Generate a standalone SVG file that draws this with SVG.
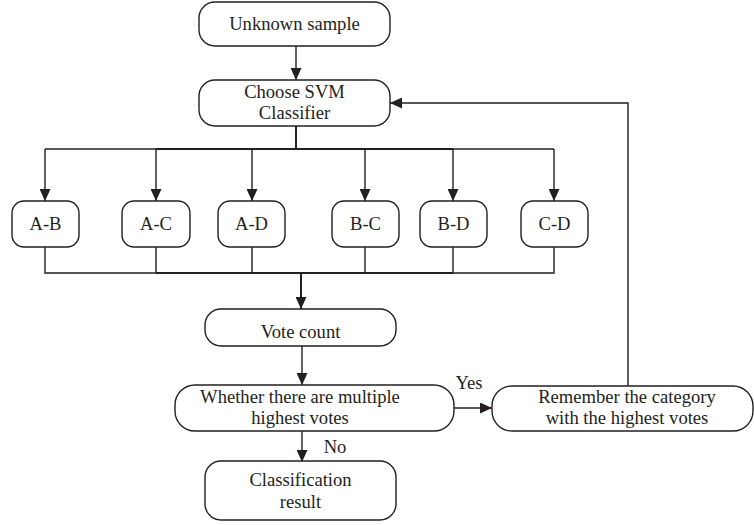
<svg xmlns="http://www.w3.org/2000/svg" width="754" height="525" viewBox="0 0 754 525">
<style>
.box{fill:#fff;stroke:#231f20;stroke-width:1.4}
.t{font-family:"Liberation Serif","Times New Roman",serif;font-size:18.6px;fill:#231f20;text-anchor:middle}
.ln{fill:none;stroke:#231f20;stroke-width:1.4}
.thick{stroke-width:2}
</style>
<defs>
<marker id="ah" viewBox="0 0 12 11" refX="12" refY="5.5" markerWidth="12" markerHeight="11" markerUnits="userSpaceOnUse" orient="auto">
<path d="M0,0 L12,5.5 L0,11 Z" fill="#231f20"/>
</marker>
</defs>
<g id="connectors">
<path class="ln" d="M296,46 V80" marker-end="url(#ah)"/>
<path class="ln thick" d="M296,126 V149"/>
<path class="ln" d="M45,149 H554"/>
<path class="ln thick" d="M156,149 H453"/>
<path class="ln" d="M45,149 V201" marker-end="url(#ah)"/>
<path class="ln" d="M156,149 V201" marker-end="url(#ah)"/>
<path class="ln" d="M252,149 V201" marker-end="url(#ah)"/>
<path class="ln" d="M365,149 V201" marker-end="url(#ah)"/>
<path class="ln" d="M453,149 V201" marker-end="url(#ah)"/>
<path class="ln" d="M554,149 V201" marker-end="url(#ah)"/>
<path class="ln" d="M45,247 V273 H554 V247"/>
<path class="ln" d="M156,247 V273 M252,247 V273 M365,247 V273 M453,247 V273"/>
<path class="ln thick" d="M156,273 H453"/>
<path class="ln thick" d="M301,273 V309" marker-end="url(#ah)"/>
<path class="ln" d="M302,346 V385" marker-end="url(#ah)"/>
<path class="ln" d="M302,431 V462" marker-end="url(#ah)"/>
<path class="ln" d="M454,408 H492" marker-end="url(#ah)"/>
<path class="ln" d="M628,386 V103 H390" marker-end="url(#ah)"/>
<text class="t" x="469" y="389">Yes</text>
<text class="t" x="335" y="453">No</text>
</g>
<g id="unknown-sample">
<rect class="box" x="199" y="2" width="191" height="44" rx="16"/>
<text class="t" x="294.5" y="30">Unknown sample</text>
</g>
<g id="choose-svm">
<rect class="box" x="199" y="80" width="191" height="46" rx="16"/>
<text class="t" x="294.5" y="98">Choose SVM</text>
<text class="t" x="294.5" y="119">Classifier</text>
</g>
<g id="ab"><rect class="box" x="12" y="201" width="67" height="46" rx="12"/><text class="t" x="45.5" y="230">A-B</text></g>
<g id="ac"><rect class="box" x="122" y="201" width="68" height="46" rx="12"/><text class="t" x="156" y="230">A-C</text></g>
<g id="ad"><rect class="box" x="218" y="201" width="67" height="46" rx="12"/><text class="t" x="251.5" y="230">A-D</text></g>
<g id="bc"><rect class="box" x="332" y="201" width="67" height="46" rx="12"/><text class="t" x="365.5" y="230">B-C</text></g>
<g id="bd"><rect class="box" x="420" y="201" width="67" height="46" rx="12"/><text class="t" x="453.5" y="230">B-D</text></g>
<g id="cd"><rect class="box" x="521" y="201" width="67" height="46" rx="12"/><text class="t" x="554.5" y="230">C-D</text></g>
<g id="vote-count">
<rect class="box" x="205" y="309" width="191" height="37" rx="16"/>
<text class="t" x="300.5" y="338">Vote count</text>
</g>
<g id="whether">
<rect class="box" x="175" y="385" width="279" height="46" rx="20"/>
<text class="t" x="300" y="403">Whether there are multiple</text>
<text class="t" x="300" y="424">highest votes</text>
</g>
<g id="remember">
<rect class="box" x="492" y="386" width="261" height="45" rx="20"/>
<text class="t" x="627" y="403">Remember the category</text>
<text class="t" x="627" y="424">with the highest votes</text>
</g>
<g id="result">
<rect class="box" x="205" y="461" width="191" height="59" rx="16"/>
<text class="t" x="300.5" y="486">Classification</text>
<text class="t" x="300.5" y="508">result</text>
</g>
</svg>
